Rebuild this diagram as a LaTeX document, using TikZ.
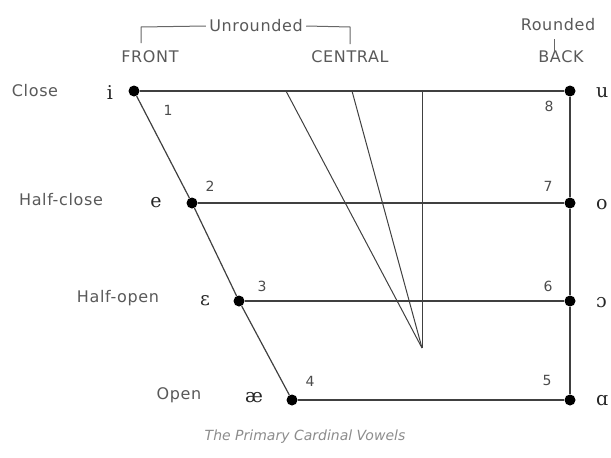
\documentclass[tikz,border=0pt]{standalone}
\usepackage{fontspec}
\setmainfont{DejaVu Sans}
\newfontfamily\ipafont{DejaVu Serif}
\usetikzlibrary{positioning}

\begin{document}
\begin{tikzpicture}[x=1pt, y=-1pt,
    vdot/.style={circle, fill=black, inner sep=0pt, minimum size=11pt},
    height/.style={text=black!65, font=\fontsize{16}{18}\selectfont\addfontfeature{LetterSpace=4}},
    vowel/.style={text=black!85, font=\ipafont\fontsize{19}{21}\selectfont},
    num/.style={text=black!70, font=\fontsize{14}{16}\selectfont},
    head/.style={text=black!65, font=\fontsize{16}{18}\selectfont\addfontfeature{LetterSpace=4}},
    line/.style={draw=black!75, line width=1.2pt},
    bracket/.style={draw=black!60, line width=1pt}
]
\useasboundingbox (0,0) rectangle (611,458);

% cardinal vowel points
\node[vdot] (d1) at (134,91) {};
\node[vdot] (d2) at (192,203) {};
\node[vdot] (d3) at (239,301) {};
\node[vdot] (d4) at (292,400) {};
\node[vdot] (d5) at (570,400) {};
\node[vdot] (d6) at (570,301) {};
\node[vdot] (d7) at (570,203) {};
\node[vdot] (d8) at (570,91) {};

\draw[line] (d1) -- (d8);
\draw[line] (d2) -- (d7);
\draw[line] (d3) -- (d6);
\draw[line] (d4) -- (d5);
\draw[line] (d1) -- (d2) -- (d3) -- (d4);
\draw[line] (d8) -- (d7) -- (d6) -- (d5);

% central lines
\coordinate (c1) at (286,91);
\coordinate (c2) at (352,91);
\coordinate (c3) at (422,91);
\coordinate (cb) at (422,348);
\draw[line, line width=1pt] (c1) -- (cb);
\draw[line, line width=1pt] (c2) -- (cb);
\draw[line, line width=1pt] (c3) -- (cb);

% height labels
\node[height] (hclose) at (35,91) {Close};
\node[height] (hhclose) at (61,200) {Half-close};
\node[height] (hhopen) at (118,298) {Half-open};
\node[height] (hopen) at (179,395) {Open};

% vowel symbols
\node[vowel] (v1) at (110,93) {i};
\node[vowel] (v2) at (156,203) {e};
\node[vowel] (v3) at (205,301) {ɛ};
\node[vowel] (v4) at (254,398) {æ};
\node[vowel, anchor=west, inner sep=0pt] (v8) at (596,93) {u};
\node[vowel, anchor=west, inner sep=0pt] (v7) at (596,205) {o};
\node[vowel, anchor=west, inner sep=0pt] (v6) at (596,303) {ɔ};
\node[vowel, anchor=west, inner sep=0pt] (v5) at (596,401) {ɑ};

% numbers
\node[num] (n1) at (168,110) {1};
\node[num] (n2) at (210,186) {2};
\node[num] (n3) at (262,286) {3};
\node[num] (n4) at (310,381) {4};
\node[num] (n8) at (549,106) {8};
\node[num] (n7) at (548,186) {7};
\node[num] (n6) at (548,286) {6};
\node[num] (n5) at (547,380) {5};

% headings
\node[head] (front) at (150,57) {FRONT};
\node[head] (central) at (350,57) {CENTRAL};
\node[head] (back) at (561,57) {BACK};
\node[head] (unr) at (256,26) {Unrounded};
\node[head] (rnd) at (558,25) {Rounded};
\coordinate (rtop) at (554,39);
\coordinate (rbot) at (554,52);
\draw[bracket] (141,43) -- (141,27) -- (unr.west);
\draw[bracket] (unr.east) -- (350,27) -- (350,44);
\draw[bracket] (rtop) -- (rbot);

% caption
\node[text=black!45, font=\itshape\fontsize{14}{16}\selectfont] (cap) at (305,437) {The Primary Cardinal Vowels};

\end{tikzpicture}
\end{document}
